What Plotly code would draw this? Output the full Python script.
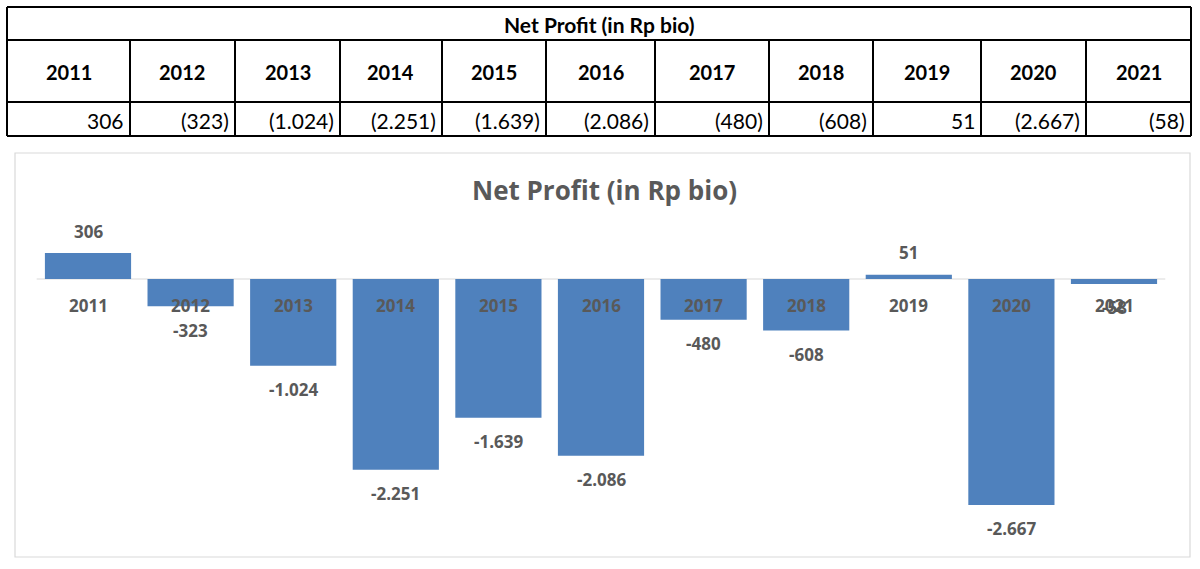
import plotly.graph_objects as go

# ---- data ----
years = ["2011", "2012", "2013", "2014", "2015", "2016", "2017", "2018", "2019", "2020", "2021"]
net_profit = [306, -323, -1024, -2251, -1639, -2086, -480, -608, 51, -2667, -58]
title_text = "Net Profit (in Rp bio)"

W, H = 1200, 569
CHART_FONT = "Open Sans"
TABLE_FONT = "Lato"
BAR = "#4F81BD"
GRAY = "#595959"


def px(x):
    return x / W


def py(y):
    return 1 - y / H


def fmt_dot(v):
    s = f"{abs(v):,}".replace(",", ".")
    return ("-" if v < 0 else "") + s


def fmt_acct(v):
    s = f"{abs(v):,}".replace(",", ".")
    return f"({s})" if v < 0 else s


fig = go.Figure()
fig.add_trace(go.Bar(
    x=years, y=net_profit, marker=dict(color=BAR, line=dict(width=0)),
    hoverinfo="x+y", showlegend=False,
))

# layout geometry (pixels)
plot_left, plot_right = 36.7, 1165.3
plot_top, plot_bottom = 215, 540
zero_px = 279
scale = 0.0847
ymax = (zero_px - plot_top) / scale
ymin = -(plot_bottom - zero_px) / scale

shapes = []
annotations = []

# chart box
shapes.append(dict(type="rect", xref="paper", yref="paper",
                   x0=px(15), x1=px(1190), y0=py(557), y1=py(153),
                   line=dict(color="#d9d9d9", width=1.2), layer="below"))
# zero line
shapes.append(dict(type="line", xref="paper", yref="y",
                   x0=px(plot_left), x1=px(plot_right), y0=0, y1=0,
                   line=dict(color="#d9d9d9", width=1), layer="below"))

# chart title
annotations.append(dict(xref="paper", yref="paper", x=px(604), y=py(190),
                        text="<b>" + title_text + "</b>", showarrow=False,
                        font=dict(family=CHART_FONT, size=26, color=GRAY),
                        xanchor="center", yanchor="middle"))

# category labels at zero line & value labels (category axis -> serial index)
for i, (yr, v) in enumerate(zip(years, net_profit)):
    annotations.append(dict(x=i, y=0, xref="x", yref="y", yshift=-26,
                            text="<b>" + yr + "</b>", showarrow=False,
                            font=dict(family=CHART_FONT, size=17, color=GRAY),
                            xanchor="center", yanchor="middle"))
    annotations.append(dict(x=i, y=v, xref="x", yref="y",
                            yshift=22 if v >= 0 else -24,
                            text="<b>" + fmt_dot(v) + "</b>", showarrow=False,
                            font=dict(family=CHART_FONT, size=17, color=GRAY),
                            xanchor="center", yanchor="middle"))

# ---- table on top ----
t_left, t_right = 7, 1191
t_top, t_row1, t_row2, t_bot = 7, 40, 102, 136
col_edges = [7, 130, 235, 340, 442, 546, 655, 769, 873, 981, 1086, 1191]
LINE = dict(color="#000000", width=2)
for yy in (t_top, t_row1, t_row2, t_bot):
    shapes.append(dict(type="line", xref="paper", yref="paper",
                       x0=px(t_left), x1=px(t_right), y0=py(yy), y1=py(yy), line=LINE))
shapes.append(dict(type="line", xref="paper", yref="paper",
                   x0=px(t_left), x1=px(t_left), y0=py(t_top), y1=py(t_bot), line=LINE))
shapes.append(dict(type="line", xref="paper", yref="paper",
                   x0=px(t_right), x1=px(t_right), y0=py(t_top), y1=py(t_bot), line=LINE))
for xe in col_edges[1:-1]:
    shapes.append(dict(type="line", xref="paper", yref="paper",
                       x0=px(xe), x1=px(xe), y0=py(t_row1), y1=py(t_bot), line=LINE))

annotations.append(dict(xref="paper", yref="paper", x=px((t_left + t_right) / 2), y=py(24),
                        text="<b>" + title_text + "</b>", showarrow=False,
                        font=dict(family=TABLE_FONT, size=21, color="#000000"),
                        xanchor="center", yanchor="middle"))
for i, (yr, v) in enumerate(zip(years, net_profit)):
    xl, xr = col_edges[i], col_edges[i + 1]
    annotations.append(dict(xref="paper", yref="paper", x=px((xl + xr) / 2), y=py(72),
                            text="<b>" + yr + "</b>", showarrow=False,
                            font=dict(family=TABLE_FONT, size=20, color="#000000"),
                            xanchor="center", yanchor="middle"))
    annotations.append(dict(xref="paper", yref="paper", x=px(xr - 4), y=py(120),
                            text=fmt_acct(v), showarrow=False,
                            font=dict(family=TABLE_FONT, size=21, color="#000000"),
                            xanchor="right", yanchor="middle"))

fig.update_layout(
    width=W, height=H,
    margin=dict(l=0, r=0, t=0, b=0),
    paper_bgcolor="white", plot_bgcolor="white",
    bargap=0.16,
    xaxis=dict(type="category", domain=[px(plot_left), px(plot_right)],
               range=[-0.5, len(years) - 0.5], showticklabels=False,
               showgrid=False, zeroline=False, showline=False, ticks=""),
    yaxis=dict(domain=[py(plot_bottom), py(plot_top)], range=[ymin, ymax],
               visible=False, showgrid=False, zeroline=False),
    shapes=shapes, annotations=annotations,
    font=dict(family=CHART_FONT),
)

fig.write_html("out.html", config={"displayModeBar": False},
               post_script="document.body.style.margin='0';document.body.style.overflow='hidden';")
